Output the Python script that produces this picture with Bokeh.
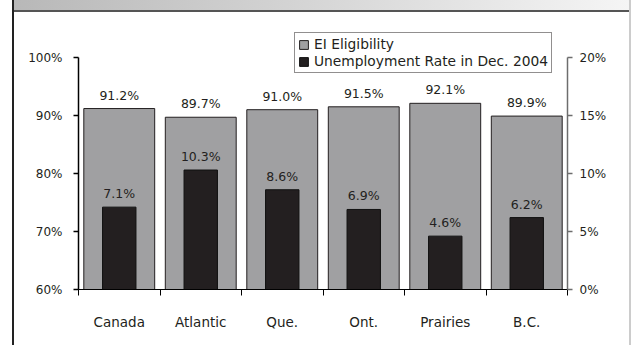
from bokeh.plotting import figure
from bokeh.models import (Range1d, LinearAxis, FixedTicker, PrintfTickFormatter, Legend,
                          LegendItem, ColumnDataSource, LabelSet)
from bokeh.core.properties import value
from bokeh.embed import file_html
from bokeh.resources import INLINE

regions = ["Canada", "Atlantic", "Que.", "Ont.", "Prairies", "B.C."]
eligibility = [91.2, 89.7, 91.0, 91.5, 92.1, 89.9]
unemployment = [7.1, 10.3, 8.6, 6.9, 4.6, 6.2]
left_ticks = [60, 70, 80, 90, 100]
right_ticks = [0, 5, 10, 15, 20]

FONT = "DejaVu Sans"
TXT = "#231f20"

xs = list(range(len(regions)))
src_e = ColumnDataSource(dict(x=xs, top=eligibility, label=[f"{v:.1f}%" for v in eligibility]))
src_u = ColumnDataSource(dict(x=xs, top=unemployment, label=[f"{v:.1f}%" for v in unemployment]))

p = figure(width=631, height=345, output_backend="svg", toolbar_location=None,
           x_range=Range1d(-0.5, len(regions) - 0.5), y_range=Range1d(60, 105),
           min_border_left=78, min_border_right=64, min_border_top=28, min_border_bottom=56)
p.extra_y_ranges = {"u": Range1d(0, 22.5)}
p.outline_line_color = None
p.grid.visible = False
p.background_fill_color = "white"
p.border_fill_alpha = 0
# page frame: grey header strip with rule below it, plus side rules
p.styles = {"background": (
    "linear-gradient(#222222,#222222) 12px 0 / 2px 100% no-repeat, "
    "linear-gradient(#cccccc,#cccccc) 629px 0 / 2px 100% no-repeat, "
    "linear-gradient(#555555,#555555) 14px 10px / 615px 2px no-repeat, "
    "linear-gradient(to right, #b8b8b8, #f5f5f5) 14px 0 / 615px 10px no-repeat, "
    "#ffffff")}

r1 = p.vbar(x="x", top="top", bottom=60, width=0.87, source=src_e,
            fill_color="#a0a0a2", line_color="#231f20", line_width=1)
r2 = p.vbar(x="x", top="top", bottom=0, width=0.41, source=src_u, y_range_name="u",
            fill_color="#231f20", line_color="#111111", line_width=1)

p.add_layout(LabelSet(x="x", y="top", text="label", source=src_e, text_align="center",
                      text_baseline="bottom", y_offset=6, text_font=value(FONT),
                      text_font_size="12.5px", text_color=TXT))
p.add_layout(LabelSet(x="x", y="top", text="label", source=src_u, y_range_name="u",
                      text_align="center", text_baseline="bottom", y_offset=6, text_font=value(FONT),
                      text_font_size="12.5px", text_color=TXT))

# axes
la = p.yaxis[0]
la.ticker = FixedTicker(ticks=left_ticks)
la.formatter = PrintfTickFormatter(format="%d%%")
la.bounds = (60, 100)
ra = LinearAxis(y_range_name="u", ticker=FixedTicker(ticks=right_ticks),
                formatter=PrintfTickFormatter(format="%d%%"), bounds=(0, 20))
p.add_layout(ra, "right")
for ax, col, so in ((la, "#000000", 11), (ra, "#6d6d6d", 7)):
    ax.axis_line_color = col
    ax.axis_line_width = 1.5
    ax.major_tick_line_color = col
    ax.major_tick_line_width = 1.5
    ax.major_tick_in = 0
    ax.major_tick_out = 5
    ax.minor_tick_line_color = None
    ax.major_label_standoff = so
    ax.major_label_text_font = FONT
    ax.major_label_text_font_size = "12px"
    ax.major_label_text_color = TXT

xa = p.xaxis[0]
xa.ticker = FixedTicker(ticks=xs, minor_ticks=[i - 0.5 for i in range(len(regions) + 1)])
xa.major_label_overrides = {i: r for i, r in zip(xs, regions)}
xa.major_tick_line_color = None
xa.major_tick_in = 0
xa.major_tick_out = 0
xa.minor_tick_line_color = "#000000"
xa.minor_tick_in = 0
xa.minor_tick_out = 6
xa.axis_line_color = "#000000"
xa.major_label_standoff = 18
xa.major_label_text_font = FONT
xa.major_label_text_font_size = "13.5px"
xa.major_label_text_color = TXT

legend = Legend(items=[LegendItem(label="EI Eligibility", renderers=[r1]),
                       LegendItem(label="Unemployment Rate in Dec. 2004", renderers=[r2])],
                location=(216, 216), orientation="vertical")
legend.border_line_color = "#231f20"
legend.border_line_width = 1
legend.background_fill_color = "white"
legend.background_fill_alpha = 1
legend.label_text_font = FONT
legend.label_text_font_size = "13.8px"
legend.label_text_color = TXT
legend.glyph_width = 11
legend.glyph_height = 11
legend.label_height = 16
legend.label_standoff = 5
legend.spacing = 1
legend.padding = 3
legend.margin = 0
p.add_layout(legend)

open("out.html", "w").write(file_html(p, INLINE))
